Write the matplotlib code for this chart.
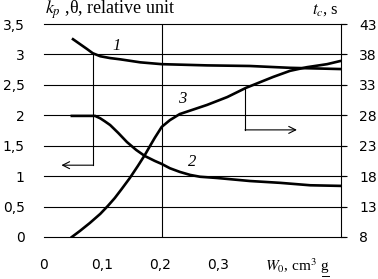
import matplotlib
matplotlib.use("Agg")
import matplotlib.pyplot as plt

plt.rcParams["mathtext.fontset"] = "stix"

# curve 1 (k_p), left axis
x1 = [0.05, 0.062, 0.074, 0.084, 0.097, 0.114, 0.131, 0.166, 0.203, 0.281, 0.355, 0.424, 0.51]
y1 = [3.25, 3.17, 3.09, 3.02, 2.97, 2.94, 2.92, 2.87, 2.84, 2.82, 2.81, 2.78, 2.76]

# curve 2 (theta), left axis
x2 = [0.048, 0.071, 0.088, 0.097, 0.105, 0.114, 0.128, 0.143, 0.159, 0.174, 0.191,
      0.203, 0.217, 0.234, 0.252, 0.269, 0.298, 0.355, 0.407, 0.459, 0.51]
y2 = [1.99, 1.99, 1.99, 1.95, 1.90, 1.84, 1.71, 1.56, 1.43, 1.33, 1.25,
      1.20, 1.13, 1.07, 1.02, 0.99, 0.97, 0.92, 0.89, 0.85, 0.84]

# curve 3 (t_c, s), right axis
x3 = [0.048, 0.062, 0.079, 0.097, 0.110, 0.122, 0.134, 0.148, 0.162, 0.174, 0.183, 0.191,
      0.203, 0.217, 0.234, 0.281, 0.316, 0.348, 0.395, 0.424, 0.453, 0.488, 0.51]
y3 = [8.0, 9.0, 10.3, 11.8, 13.1, 14.4, 15.9, 17.7, 19.7, 21.5, 23.0, 24.3,
      26.1, 27.2, 28.2, 29.7, 31.0, 32.5, 34.3, 35.3, 35.9, 36.4, 36.9]

left_ticks = [0, 0.5, 1, 1.5, 2, 2.5, 3, 3.5]
left_labels = ["0", "0,5", "1", "1,5", "2", "2,5", "3", "3,5"]
right_ticks = [8, 13, 18, 23, 28, 33, 38, 43]
x_ticks = [0, 0.1, 0.2, 0.3]
x_labels = ["0", "0,1", "0,2", "0,3"]
x_grid = [0.203]

fig = plt.figure(figsize=(3.78, 2.79), dpi=100)
ax = fig.add_axes([44 / 378, 1 - 237 / 279, 297 / 378, 213 / 279])
ax.set_xlim(0, 0.512)
ax.set_ylim(0, 3.5)
for s in ["top", "left", "bottom"]:
    ax.spines[s].set_visible(False)
ax.spines["right"].set_linewidth(0.8)

for yv in left_ticks:
    ax.plot([0, 0.519], [yv, yv], color="black", lw=0.8, clip_on=False)
for xv in x_grid:
    ax.axvline(xv, color="black", lw=0.8)

ax.set_yticks(left_ticks)
ax.set_yticklabels(left_labels)
ax.set_xticks(x_ticks)
ax.set_xticklabels(x_labels)
ax.tick_params(axis="y", length=0, pad=14, labelsize=10)
ax.tick_params(axis="x", length=0, pad=15, labelsize=10)

ax.plot(x1, y1, color="black", lw=1.9, solid_joinstyle="round")
ax.plot(x2, y2, color="black", lw=1.9, solid_joinstyle="round")

ax2 = ax.twinx()
ax2.set_ylim(8, 43)
for s in ["top", "left", "bottom", "right"]:
    ax2.spines[s].set_visible(False)
ax2.set_yticks(right_ticks)
ax2.tick_params(axis="y", length=4, width=0.8, pad=9, labelsize=10)
ax2.plot(x3, y3, color="black", lw=1.9, solid_joinstyle="round")

# arrows
ax.plot([0.084, 0.084], [3.0, 1.18], color="black", lw=0.8)
ax.annotate("", xy=(0.03, 1.18), xytext=(0.0845, 1.18),
            arrowprops=dict(arrowstyle="->,head_length=0.5,head_width=0.25", lw=0.8,
                            color="black", shrinkA=0, shrinkB=0))
ax2.plot([0.347, 0.347], [32.4, 25.6], color="black", lw=0.8)
ax2.annotate("", xy=(0.436, 25.6), xytext=(0.3465, 25.6),
             arrowprops=dict(arrowstyle="->,head_length=0.5,head_width=0.25", lw=0.8,
                             color="black", shrinkA=0, shrinkB=0))

# curve numbers
ax.text(0.126, 3.14, "1", fontsize=12, style="italic", family="Liberation Serif", ha="center", va="center")
ax.text(0.255, 1.24, "2", fontsize=12, style="italic", family="Liberation Serif", ha="center", va="center")
ax.text(0.238, 2.26, "3", fontsize=12, style="italic", family="Liberation Serif", ha="center", va="center")

# axis titles
ax.text(0.003, 1.066, r"$k_p$ ,θ, relative unit", transform=ax.transAxes, fontsize=13,
        family="Liberation Serif", ha="left", va="center")
ax.text(0.946, 1.066, r"$t_c$, s", transform=ax.transAxes, fontsize=12,
        family="Liberation Serif", ha="center", va="center")
xl = ax.text(0.744, -0.135, r"$W_0$, cm$^3$ g", transform=ax.transAxes, fontsize=11,
             family="Liberation Serif", ha="left", va="center")
fig.canvas.draw()
bb = xl.get_window_extent().transformed(ax.transAxes.inverted())
ax.plot([bb.x1 - 0.025, bb.x1], [bb.y0 - 0.004, bb.y0 - 0.004], color="black", lw=0.7,
        transform=ax.transAxes, clip_on=False)

fig.savefig("out.png", dpi=100)
